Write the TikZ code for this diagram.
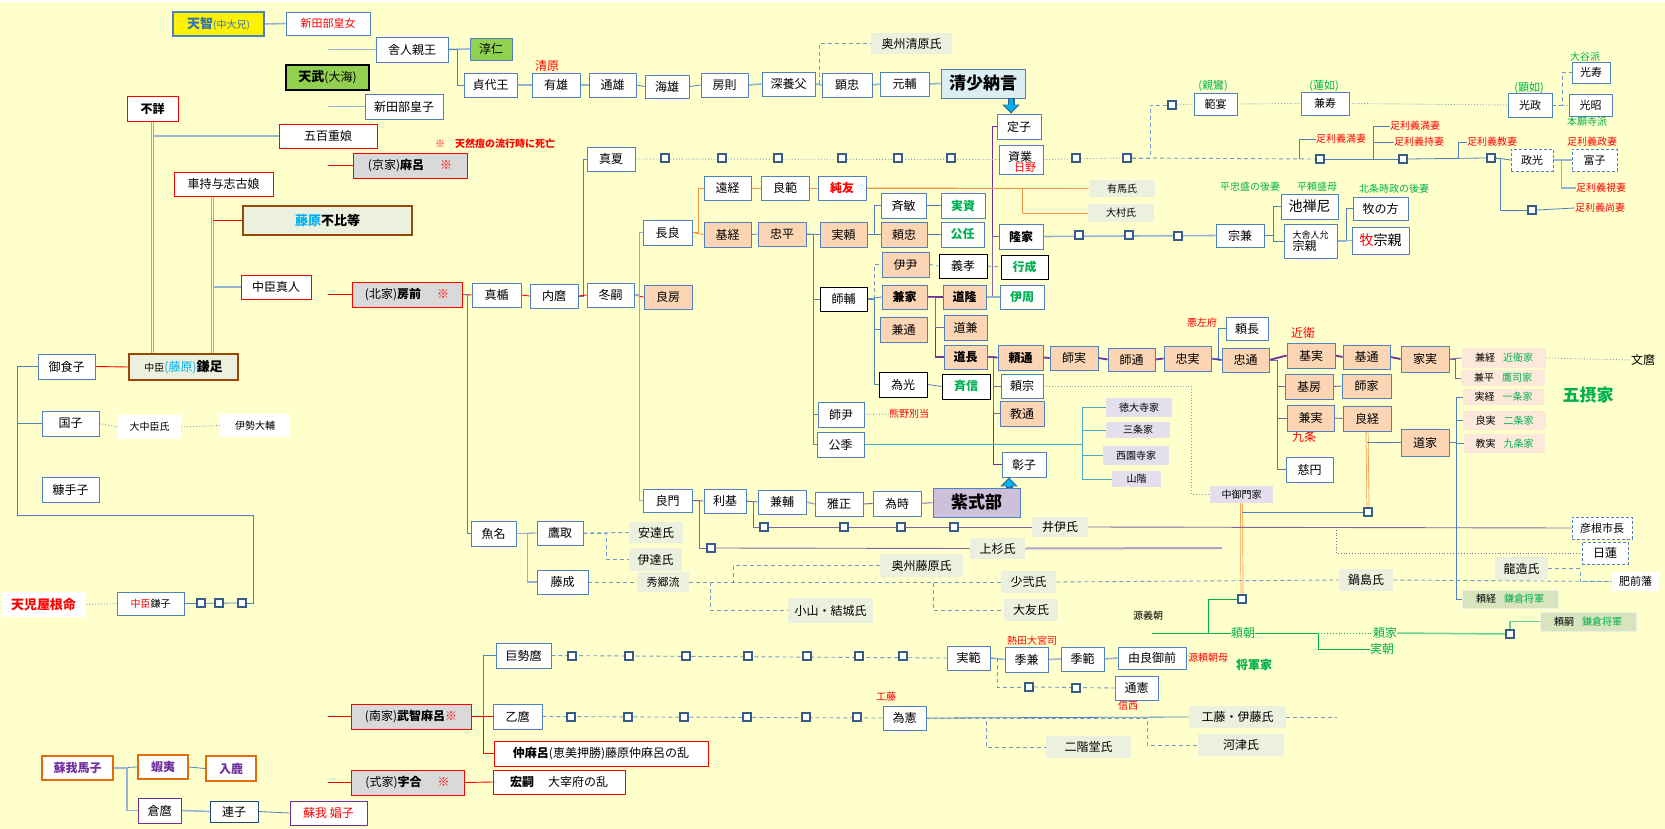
\documentclass[tikz,border=0pt]{standalone}
\usepackage{fontspec}
\setmainfont{Noto Sans CJK JP}
\usetikzlibrary{calc,arrows.meta}
\newcommand\fz[1]{\fontsize{#1}{#1}\selectfont}
\definecolor{bgc}{HTML}{FFFFCC}
\definecolor{bdr}{HTML}{4F81BD}
\definecolor{sqc}{HTML}{385D8A}
\definecolor{orf}{HTML}{FCD5B5}
\definecolor{gryf}{HTML}{D9D9D9}
\definecolor{clanf}{HTML}{EBF1DE}
\definecolor{lavf}{HTML}{E4DFEC}
\definecolor{pinkf}{HTML}{FDE9D9}
\definecolor{kamaf}{HTML}{D7E4BD}
\definecolor{grn}{HTML}{00B050}
\definecolor{purp}{HTML}{7030A0}
\definecolor{purl}{HTML}{8064A2}
\definecolor{purg}{HTML}{B1A0C7}
\definecolor{orgl}{HTML}{F79646}
\definecolor{orgd}{HTML}{E46C0A}
\definecolor{brn}{HTML}{974806}
\definecolor{cyn}{HTML}{00B0F0}
\definecolor{ltb}{HTML}{95B3D7}
\definecolor{dotb}{HTML}{7F9FC5}
\definecolor{tealc}{HTML}{4BACC6}
\definecolor{seif}{HTML}{DAEEF3}
\definecolor{murf}{HTML}{CCC0DA}
\definecolor{tenf}{HTML}{92D050}
\definecolor{tblue}{HTML}{2E74B5}
\definecolor{navyc}{HTML}{1F497D}
\pgfdeclarelayer{back}\pgfdeclarelayer{lines}\pgfsetlayers{back,lines,main}
\tikzset{
 bxs/.style={draw=bdr,fill=white,line width=0.9pt,inner sep=0pt,font={\fz{12}},text=black},
 orfill/.style={fill=orf},
 redb/.style={draw=red},
 gbx/.style={fill=gryf,draw=red},
 blk/.style={draw=black},
 clan/.style={draw=none,fill=clanf},
 lav/.style={draw=none,fill=lavf,font={\fz{10}}},
 pnk/.style={draw=none,fill=pinkf,font={\fz{10}}},
 kama/.style={draw=clanf,fill=kamaf,font={\fz{10}}},
 plainw/.style={draw=none,fill=white},
 dbox/.style={draw=bdr,dash pattern=on 3pt off 2pt},
 sogab/.style={draw=orgd,line width=2pt,text=purp,font={\bfseries\fz{12}}},
 sqr/.style={draw=sqc,fill=white,line width=2pt,minimum size=8pt,inner sep=0pt},
 lab/.style={inner sep=0pt,font={\fz{10}}},
 ln/.style={draw=bdr,line width=0.8pt},
 lnl/.style={draw=ltb,line width=1.6pt},
 rl/.style={draw=red,line width=0.9pt},
 ol/.style={draw=orgl,line width=0.9pt},
 odb/.style={draw=orgl,double=bgc,double distance=1.4pt,line width=0.7pt},
 pl/.style={draw=purp,line width=1.8pt},
 pll/.style={draw=purl,line width=0.9pt},
 pg/.style={draw=purg,line width=1.4pt},
 dsh/.style={draw=bdr!80,line width=0.9pt,dash pattern=on 4pt off 3pt},
 dtl/.style={draw=dotb,line width=0.9pt,dotted},
 dtp/.style={draw=purl,line width=0.8pt,dotted},
 gl/.style={draw=grn,line width=0.9pt},
 tl/.style={draw=tealc,line width=0.9pt},
 gryl/.style={draw=purg,line width=2pt},
 arwo/.style={draw=sqc,line width=7pt,-{Triangle[width=17pt,length=9pt]}},
 arw/.style={draw=cyn,line width=4.5pt,-{Triangle[width=13pt,length=7pt]}}
}
\newcommand\NB[7][]{\pgfmathsetmacro\nbw{#5-#3}\pgfmathsetmacro\nbh{#6-#4}%
 \node[bxs,#1,minimum width=\nbw pt,minimum height=\nbh pt] (#2) at ({(#3+#5)/2},{(#4+#6)/2}) {#7};}
\newcommand\LB[5][]{\node[lab,#1] (#2) at (#3,#4) {#5};}
\newcommand\SQ[3]{\node[sqr] (#1) at (#2,#3) {};}
\begin{document}
\begin{tikzpicture}[x=1pt,y=-1pt]
\useasboundingbox (0,0) rectangle (1665,829);
\begin{pgfonlayer}{back}
\fill[bgc] (0,0) rectangle (1665,829);
\fill[white] (0,0) rectangle (1665,2);
\end{pgfonlayer}
% ---------- left
\NB[line width=2.5pt,fill=yellow,text=tblue]{tenji}{173}{12}{264}{36}{{\bfseries\fz{13}天智}{\fz{10}(中大兄)}}
\NB[text=red,font={\fz{11}}]{nitabeF}{286}{12}{370}{35}{新田部皇女}
\NB{toneri}{376}{37}{448}{62}{舎人親王}
\NB[fill=tenf]{junnin}{470}{38}{512}{60}{淳仁}
\NB[fill=tenf,draw=black,line width=2.5pt]{tenmu}{286}{65}{369}{90}{{\bfseries\fz{13}天武}(大海)}
\NB{nitabeM}{365}{94}{443}{119}{新田部皇子}
\NB[redb]{fusho}{127}{96}{178}{121}{\bfseries 不詳}
\NB[redb]{ioe}{279}{124}{377}{148}{五百重娘}
\NB[gbx]{maro}{353}{153}{467}{178}{(京家){\bfseries 麻呂}\hspace{16pt}\textcolor{red}{※}}
\NB[redb]{kurumochi}{174}{172}{273}{196}{車持与志古娘}
\NB[line width=2.5pt,draw=brn,fill=clanf,font={\bfseries\fz{13}}]{fuhito}{243}{206}{412}{235}{\textcolor{cyn}{藤原}不比等}
\NB[redb]{mahito}{241}{275}{311}{299}{中臣真人}
\NB[gbx]{fusasaki}{352}{282}{462}{307}{(北家){\bfseries 房前}\hspace{16pt}\textcolor{red}{※}}
\NB{mikeko}{38}{354}{95}{379}{御食子}
\NB[line width=2.5pt,draw=brn,fill=clanf]{kamatari}{129}{354}{238}{380}{{\fz{10}中臣}\textcolor{cyn}{(藤原)}{\bfseries\fz{13}鎌足}}
\NB{kuniko}{42}{411}{99}{436}{国子}
\NB[plainw,font={\fz{10}}]{onakatomi}{118}{415}{181}{439}{大中臣氏}
\NB[plainw,font={\fz{10}}]{iseno}{220}{414}{290}{437}{伊勢大輔}
\NB{nukateko}{42}{477}{99}{502}{糠手子}
\NB[plainw,text=red,font={\bfseries\fz{13}}]{amaten}{1}{592}{86}{617}{天児屋根命}
\NB[font={\fz{10}}]{kamako}{117}{592}{184}{615}{\textcolor{red}{中臣}鎌子}
\SQ{s1}{201}{603}\SQ{s2}{219}{603}\SQ{s3}{242}{603}
\NB[sogab]{umako}{42}{756}{113}{780}{蘇我馬子}
\NB[sogab]{emishi}{138}{755}{188}{779}{蝦夷}
\NB[sogab]{iruka}{206}{756}{256}{781}{入鹿}
\NB[draw=purp]{kuramaro}{138}{798}{181}{823}{倉麿}
\NB[draw=navyc]{renshi}{210}{801}{258}{822}{連子}
\NB[draw=purp,text=red]{soshi}{290}{801}{367}{825}{蘇我 娼子}
\NB[gbx]{muchimaro}{351}{704}{471}{729}{(南家){\bfseries 武智麻呂}\textcolor{red}{※}}
\NB[gbx]{umakai}{351}{770}{464}{795}{(式家){\bfseries 宇合}\hspace{16pt}\textcolor{red}{※}}
\LB[text=red,font={\bfseries\fz{10}}]{tennen}{495}{144}{※　天然痘の流行時に死亡}
% ---------- south/middle bottom
\NB{kosemaro}{496}{643}{551}{668}{巨勢麿}
\NB{otomaro}{493}{704}{542}{729}{乙麿}
\NB[redb]{nakamaro}{494}{741}{708}{766}{{\bfseries 仲麻呂}(恵美押勝)藤原仲麻呂の乱}
\NB[redb]{hirotsugu}{493}{770}{625}{794}{{\bfseries 宏嗣}\hspace{14pt}大宰府の乱}
\NB{matate}{472}{283}{521}{307}{真楯}
\NB{uchimaro}{530}{284}{578}{308}{内麿}
\NB{fuyutsugu}{587}{283}{634}{307}{冬嗣}
\NB[orfill]{yoshifusa}{644}{285}{692}{309}{良房}
\NB{uona}{471}{521}{516}{546}{魚名}
\NB{takatori}{537}{521}{583}{545}{鷹取}
\NB[clan]{adachi}{629}{522}{683}{543}{安達氏}
\NB[clan]{date}{629}{548}{682}{571}{伊達氏}
\NB{fujinari}{537}{570}{588}{594}{藤成}
\NB[clan,font={\fz{11}}]{hidesato}{637}{572}{689}{592}{秀郷流}
\NB[clan]{oshufuji}{880}{554}{963}{577}{奥州藤原氏}
\NB[clan]{oyamayuki}{788}{598}{873}{623}{小山・結城氏}
\NB[clan]{shoni}{1001}{571}{1056}{593}{少弐氏}
\NB[clan]{otomo}{1004}{599}{1058}{621}{大友氏}
\NB[clan]{nabeshima}{1339}{569}{1393}{591}{鍋島氏}
\NB[clan]{ryuzo}{1495}{557}{1548}{580}{龍造氏}
\NB[plainw,font={\fz{11}}]{hizen}{1612}{572}{1659}{591}{肥前藩}
\NB[dbox]{nichiren}{1582}{542}{1628}{564}{日蓮}
\NB[dbox,font={\fz{11}}]{hikone}{1572}{517}{1632}{539}{彦根市長}
\NB[clan]{ii}{1032}{517}{1088}{537}{井伊氏}
\NB[clan]{uesugi}{970}{538}{1025}{559}{上杉氏}
\SQ{k1}{572}{656}\SQ{k2}{629}{656}\SQ{k3}{686}{656}\SQ{k4}{748}{656}\SQ{k5}{807}{656}\SQ{k6}{859}{656}\SQ{k7}{903}{656}
\SQ{o1}{571}{717}\SQ{o2}{628}{717}\SQ{o3}{684}{717}\SQ{o4}{747}{717}\SQ{o5}{806}{717}\SQ{o6}{857}{717}
\SQ{i1}{764}{527}\SQ{i2}{844}{527}\SQ{i3}{901}{527}\SQ{i4}{954}{527}
\SQ{u1}{711}{548}
% ---------- top chain
\NB{sadayo}{464}{73}{517}{97}{貞代王}
\LB[text=red,font={\fz{12}}]{kiyohara}{547}{66}{清原}
\NB{ario}{532}{73}{580}{97}{有雄}
\NB{michio}{589}{73}{636}{97}{通雄}
\NB{umio}{645}{75}{689}{98}{海雄}
\NB{fusanori}{701}{73}{748}{97}{房則}
\NB{fukayabu}{762}{72}{815}{96}{深養父}
\NB{akitada}{822}{73}{872}{97}{顕忠}
\NB{motosuke}{880}{72}{929}{96}{元輔}
\NB[fill=seif,font={\bfseries\fz{17}}]{seisho}{941}{69}{1025}{98}{清少納言}
\NB[clan]{oshukiyo}{871}{33}{952}{54}{奥州清原氏}
\NB{teishi}{997}{114}{1041}{139}{定子}
\NB{sukenari}{999}{145}{1043}{174}{}
\LB[font={\fz{12}}]{sukeL}{1020}{157}{資業}
\LB[text=red,font={\fz{11}}]{hino}{1025}{168}{日野}
\NB{manatsu}{587}{147}{635}{171}{真夏}
\SQ{m1}{665}{158}\SQ{m2}{722}{158}\SQ{m3}{778}{158}\SQ{m4}{842}{158}\SQ{m5}{898}{158}\SQ{m6}{951}{158}
\SQ{m7}{1076}{158}\SQ{m8}{1127}{158}\SQ{hs}{1172}{105}
\SQ{a1}{1320}{159}\SQ{a2}{1403}{159}\SQ{a3}{1491}{158}\SQ{a4}{1532}{210}
\NB{nagara}{643}{220}{692}{245}{長良}
\NB{toot}{704}{176}{751}{200}{遠経}
\NB{yoshinori}{761}{176}{809}{200}{良範}
\NB[text=red,font={\bfseries\fz{12}}]{sumitomo}{818}{176}{866}{200}{純友}
\NB[orfill]{mototsune}{704}{222}{751}{247}{基経}
\NB[orfill]{tadahira}{758}{222}{806}{246}{忠平}
\NB[orfill]{saneyori}{820}{222}{867}{247}{実頼}
\NB{tadatoshi}{881}{193}{926}{218}{斉敏}
\NB[text=grn,font={\bfseries\fz{12}}]{sanesuke}{941}{193}{985}{218}{実資}
\NB[orfill]{yoritada}{881}{222}{927}{247}{頼忠}
\NB[text=grn,font={\bfseries\fz{12}}]{kinto}{941}{222}{984}{247}{公任}
\NB[orfill]{koretada}{882}{252}{929}{277}{伊尹}
\NB[blk]{yoshitaka}{939}{254}{987}{278}{義孝}
\NB[blk,text=grn,font={\bfseries\fz{12}}]{yukinari}{1001}{255}{1048}{279}{行成}
\NB[font={\bfseries\fz{12}}]{takaie}{999}{224}{1043}{249}{隆家}
\SQ{tk1}{1079}{235}\SQ{tk2}{1129}{235}\SQ{tk3}{1178}{236}
\NB[clan,font={\fz{10}}]{arima}{1089}{180}{1155}{197}{有馬氏}
\NB[clan,font={\fz{10}}]{omura}{1088}{204}{1154}{222}{大村氏}
\NB{munekane}{1216}{224}{1264}{247}{宗兼}
\NB[font={\fz{14}}]{ikenozenni}{1281}{194}{1338}{219}{池禅尼}
\NB[align=left]{munechika}{1284}{224}{1337}{258}{{\fz{9}大舎人允}\\{\fz{12}宗親}}
\NB{makinokata}{1353}{197}{1408}{220}{牧の方}
\NB[font={\fz{14}}]{makimune}{1352}{227}{1409}{254}{\textcolor{red}{牧}宗親}
\LB[text=grn]{tadamori}{1250}{187}{平忠盛の後妻}
\LB[text=grn]{yorimori}{1317}{187}{平頼盛母}
\LB[text=grn]{hojo}{1394}{189}{北条時政の後妻}
\NB[font={\fz{11}}]{hanen}{1194}{93}{1237}{115}{範宴}
\NB[font={\fz{11}}]{kenju}{1301}{92}{1349}{115}{兼寿}
\NB[font={\fz{11}}]{kosei}{1508}{93}{1552}{117}{光政}
\NB[font={\fz{11}}]{koju}{1572}{62}{1610}{83}{光寿}
\NB[font={\fz{11}}]{kosho}{1569}{94}{1612}{116}{光昭}
\LB[text=grn,font={\fz{11}}]{shinran}{1213}{86}{(親鸞)}
\LB[text=grn,font={\fz{11}}]{rennyo}{1324}{86}{(蓮如)}
\LB[text=grn,font={\fz{11}}]{kennyo}{1529}{88}{(顕如)}
\LB[text=grn]{otani}{1585}{57}{大谷派}
\LB[text=grn]{honganji}{1587}{122}{本願寺派}
\NB[dbox,font={\fz{11}}]{masamitsu}{1511}{149}{1553}{171}{政光}
\NB[dbox,font={\fz{11}}]{tomiko}{1572}{149}{1617}{171}{富子}
\LB[text=red]{w1}{1341}{139}{足利義満妻}
\LB[text=red]{w2}{1415}{126}{足利義満妻}
\LB[text=red]{w3}{1419}{142}{足利義持妻}
\LB[text=red]{w4}{1492}{142}{足利義教妻}
\LB[text=red]{w5}{1592}{142}{足利義政妻}
\LB[text=red]{w6}{1601}{188}{足利義視妻}
\LB[text=red]{w7}{1600}{208}{足利義尚妻}
% ---------- Hokke middle
\NB[blk]{morosuke}{820}{287}{867}{311}{師輔}
\NB[orfill,font={\bfseries\fz{12}}]{kaneie}{882}{285}{927}{309}{兼家}
\NB[orfill,font={\bfseries\fz{12}}]{michitaka}{943}{285}{986}{309}{道隆}
\NB[text=grn,font={\bfseries\fz{12}}]{korechika}{1000}{285}{1044}{309}{伊周}
\NB[orfill]{kanemichi}{880}{317}{927}{342}{兼通}
\NB[orfill]{michikane}{944}{315}{987}{340}{道兼}
\NB[orfill,font={\bfseries\fz{12}}]{michinaga}{944}{345}{987}{369}{道長}
\NB[orfill,font={\bfseries\fz{12}}]{yorimichi}{998}{345}{1043}{370}{頼通}
\NB[orfill]{morozane}{1050}{346}{1098}{370}{師実}
\NB[orfill]{moromichi}{1108}{348}{1155}{371}{師通}
\NB[orfill]{tadazane}{1164}{346}{1211}{371}{忠実}
\NB{yorinaga}{1226}{317}{1268}{340}{頼長}
\NB[orfill]{tadamichi}{1222}{348}{1269}{372}{忠通}
\LB[text=red]{akusafu}{1202}{323}{悪左府}
\NB[blk]{tamemitsu}{879}{372}{927}{397}{為光}
\NB[blk,text=grn,font={\bfseries\fz{12}}]{tadanobu}{942}{374}{990}{399}{斉信}
\NB{yorimune}{1001}{374}{1043}{398}{頼宗}
\NB[orfill]{norimichi}{1000}{401}{1044}{426}{教通}
\NB{shoshi2}{1002}{452}{1046}{477}{彰子}
\NB[fill=murf,font={\bfseries\fz{17}}]{murasaki}{933}{488}{1020}{517}{紫式部}
\NB{tametoki}{873}{491}{921}{516}{為時}
\NB{masatada}{815}{492}{863}{516}{雅正}
\NB{kanesuke}{758}{490}{806}{514}{兼輔}
\NB{toshimoto}{704}{489}{746}{513}{利基}
\NB{yoshikado}{643}{489}{692}{512}{良門}
\NB{morotada}{818}{402}{864}{427}{師尹}
\NB{kinsue}{817}{432}{864}{457}{公季}
\LB[text=red]{kumano}{909}{414}{熊野別当}
\NB[lav]{tokudaiji}{1106}{398}{1172}{417}{徳大寺家}
\NB[lav]{sanjo}{1106}{422}{1170}{438}{三条家}
\NB[lav]{saionji}{1103}{446}{1169}{465}{西園寺家}
\NB[lav]{yamashina}{1112}{471}{1161}{487}{山階}
\NB[lav]{nakamikado}{1210}{486}{1273}{503}{中御門家}
% ---------- right
\NB[orfill]{motozane}{1287}{343}{1335}{368}{基実}
\NB[orfill]{motomichi}{1343}{345}{1390}{369}{基通}
\NB[orfill]{iezane}{1401}{346}{1449}{372}{家実}
\NB[pnk]{kanetsune}{1462}{348}{1546}{368}{兼経\hspace{8pt}\textcolor{grn}{近衛家}}
\NB[pnk]{kanehira}{1461}{370}{1545}{386}{兼平\hspace{8pt}\textcolor{grn}{鷹司家}}
\NB[pnk]{sanetsune}{1463}{389}{1544}{405}{実経\hspace{8pt}\textcolor{grn}{一条家}}
\NB[pnk]{yoshizane}{1463}{411}{1546}{430}{良実\hspace{8pt}\textcolor{grn}{二条家}}
\NB[pnk]{norizane}{1464}{434}{1545}{453}{教実\hspace{8pt}\textcolor{grn}{九条家}}
\LB[text=grn,font={\bfseries\fz{17}}]{gosekke}{1588}{395}{五摂家}
\LB[font={\fz{12}}]{fumimaro}{1643}{360}{文麿}
\LB[text=red,font={\fz{12}}]{konoe}{1303}{333}{近衛}
\LB[text=red,font={\fz{12}}]{kujo}{1304}{437}{九条}
\NB[orfill]{motofusa}{1285}{374}{1333}{399}{基房}
\NB[orfill]{moroie}{1342}{374}{1391}{398}{師家}
\NB[orfill]{kanezane}{1287}{405}{1334}{431}{兼実}
\NB[orfill]{yoshitsune}{1343}{406}{1391}{431}{良経}
\NB[orfill]{michiie}{1401}{429}{1449}{456}{道家}
\NB{jien}{1286}{457}{1333}{482}{慈円}
\NB[kama]{yoritsune}{1462}{590}{1558}{608}{頼経\hspace{8pt}\textcolor{grn}{鎌倉将軍}}
\NB[kama]{yoritsugu}{1540}{612}{1636}{631}{頼嗣\hspace{8pt}\textcolor{grn}{鎌倉将軍}}
\SQ{nk}{1242}{599}\SQ{yq}{1368}{512}\SQ{yk}{1510}{634}
% ---------- bottom right
\NB{sanenori}{947}{646}{990}{670}{実範}
\NB{suekane}{1005}{647}{1048}{672}{季兼}
\NB{suenori}{1061}{647}{1104}{671}{季範}
\NB{yuragozen}{1118}{647}{1186}{669}{由良御前}
\NB{michinori}{1115}{676}{1158}{700}{通憲}
\NB{tamenori}{883}{706}{926}{730}{為憲}
\NB[clan]{kudoito}{1189}{706}{1286}{728}{工藤・伊藤氏}
\NB[clan]{kawazu}{1198}{734}{1284}{756}{河津氏}
\NB[clan]{nikaido}{1046}{736}{1131}{758}{二階堂氏}
\SQ{t1}{1029}{687}\SQ{t2}{1076}{688}
\LB[text=red]{atsuta}{1032}{641}{熱田大宮司}
\LB[text=red]{yorihaha}{1208}{658}{源頼朝母}
\LB{yoshitomo}{1148}{616}{源義朝}
\LB[text=grn,font={\fz{12}}]{yoritomo}{1243}{633}{頼朝}
\LB[text=grn,font={\bfseries\fz{12}}]{shogunke}{1254}{665}{将軍家}
\LB[text=grn,font={\fz{12}}]{yorie}{1385}{633}{頼家}
\LB[text=grn,font={\fz{12}}]{sanetomo}{1382}{649}{実朝}
\LB[text=red]{shinzei}{1128}{706}{信西}
\LB[text=red]{kudo}{886}{697}{工藤}
% ---------- helper coordinates
\coordinate (lk) at (253,515);
\coordinate (nj) at (1336,527);
\coordinate (ue) at (1222,548);
\coordinate (kend) at (1337,717);
\coordinate (kv) at ($(kurumochi.south)+(-11,0)$);
\coordinate (ta) at ($(teishi.north)+(-8,0)$);
\coordinate (sa) at ($(shoshi2.south)+(-15,0)$);
% ---------- connectors
\begin{pgfonlayer}{lines}
\draw[lnl] (tenji.east) -- (nitabeF.west);
\draw[odb] (nitabeF.south) -- (nitabeF.south |- soshi.north);
\draw[lnl] (nitabeF.south |- toneri.west) -- (toneri.west);
\draw[lnl] (nitabeF.south |- nitabeM.west) -- (nitabeM.west);
\draw[lnl] (fusho.south |- ioe.west) -- (ioe.west);
\draw[rl] (nitabeF.south |- maro.west) -- (maro.west);
\draw[rl] (nitabeF.south |- fusasaki.west) -- (fusasaki.west);
\draw[rl] (nitabeF.south |- muchimaro.west) -- (muchimaro.west);
\draw[rl] (nitabeF.south |- umakai.west) -- (umakai.west);
\draw[odb] (fusho.south) -- (fusho.south |- kamatari.north);
\draw[odb] (kv) -- (kv |- kamatari.north);
\draw[rl] (kv |- fuhito.west) -- (fuhito.west);
\draw[lnl] (kv |- mahito.west) -- (mahito.west);
\draw[rl] (mikeko.east) -- (kamatari.west);
\draw[ln] (mikeko.west) -- ++(-20,0) |- (kuniko.west);
\draw[ln] (mikeko.west) -- ++(-20,0) |- (lk) |- (s3.east);
\draw[dtl] (kuniko.east) -- (onakatomi.west);
\draw[dtl] (onakatomi.east) -- (iseno.west);
\draw[dtl] (amaten.east) -- (kamako.west);
\draw[ln] (kamako.east) -- (s3.west);
\draw[ln] (umako.east) -- (emishi.west);
\draw[ln] (emishi.east) -- (iruka.west);
\draw[lnl] (umako.east) -- ++(13,0) |- (kuramaro.west);
\draw[lnl] (kuramaro.east) -- (renshi.west);
\draw[ln] (renshi.east) -- (soshi.west);
% top chain
\draw[lnl] (toneri.east) -- (junnin.west);
\draw[ln] (toneri.east) -- ++(9,0) |- (sadayo.west);
\draw[lnl] (sadayo.east) -- (ario.west);
\draw[lnl] (ario.east) -- (michio.west);
\draw[ln] (michio.east) -- (umio.west);
\draw[ln] (umio.east) -- (fusanori.west);
\draw[lnl] (fusanori.east) -- (fukayabu.west);
\draw[lnl] (fukayabu.east) -- (akitada.west);
\draw[lnl] (akitada.east) -- (motosuke.west);
\draw[lnl] (motosuke.east) -- (seisho.west);
\draw[dsh] (fukayabu.east) ++(4,0) |- (oshukiyo.west);
\draw[pl] (michitaka.east) -- ++(6,0) |- (teishi.west);
\draw[pll] (michitaka.east) -- ++(6,0) |- (takaie.west);
\draw[lnl] (michitaka.east) -- (korechika.west);
% manatsu line
\draw[dtl] (manatsu.east) -- (sukenari.west);
\draw[dtl] (sukenari.east) -- (m8.west);
\draw[dsh] (m8.east) -- (a1.west);
\draw[dsh] (m8.east) -- ++(18,0) |- (hs.west);
\draw[dtl] (hs.east) -- (hanen.west);
\draw[dtl] (hanen.east) -- (kenju.west);
\draw[dtl] (kenju.east) -- (kosei.west);
\draw[dtl] (kosei.east) -- (kosho.west);
\draw[dsh] (kosei.east) -- ++(10,0) |- (koju.west);
\draw[ln] (a1.west) ++(-16,0) |- (w1.west);
\draw[ln] (a1.east) -- (a2.west);
\draw[ln] (a2.west) ++(-25,0) |- (w2.west);
\draw[ln] (a2.west) ++(-25,0) |- (w3.west);
\draw[ln] (a2.east) -- (a3.west);
\draw[ln] (a3.west) ++(-28,0) |- (w4.west);
\draw[ln] (a3.east) -- (masamitsu.west);
\draw[lnl] (masamitsu.east) -- (tomiko.west);
\draw[lnl] (masamitsu.east) -- ++(8,0) |- (w6.west);
\draw[ln] (a3.east) -- ++(4,0) |- (a4.west);
\draw[ln] (a4.east) -- (w7.west);
\draw[ln] (uchimaro.east) -- ++(5,0) |- (manatsu.west);
% hokke
\draw[rl] (fusasaki.east) -- (matate.west);
\draw[rl] (matate.east) -- (uchimaro.west);
\draw[rl] (uchimaro.east) -- (fuyutsugu.west);
\draw[rl] (fuyutsugu.east) -- (yoshifusa.west);
\draw[ln] (fusasaki.east) -- ++(5,0) |- (uona.west);
\draw[pg] (fuyutsugu.east) -- ++(5,0) |- (nagara.west);
\draw[pg] (fuyutsugu.east) -- ++(5,0) |- (yoshikado.west);
\draw[ol] (nagara.east) -- ++(6,0) |- (toot.west);
\draw[ol] (nagara.east) -- (mototsune.west);
\draw[ol] (toot.east) -- (yoshinori.west);
\draw[ol] (yoshinori.east) -- (sumitomo.west);
\draw[ol] (sumitomo.east) -- (arima.west);
\draw[ol] (sumitomo.east) -- ++(156,0) |- (omura.west);
\draw[ln] (mototsune.east) -- (tadahira.west);
\draw[ln] (tadahira.east) -- (saneyori.west);
\draw[ln] (tadahira.east) -- ++(7,0) |- (morosuke.west);
\draw[ln] (tadahira.east) -- ++(7,0) |- (morotada.west);
\draw[ln] (tadahira.east) -- ++(7,0) |- (kinsue.west);
\draw[ln] (saneyori.east) -- ++(7,0) |- (tadatoshi.west);
\draw[ln] (saneyori.east) -- ++(7,0) |- (yoritada.west);
\draw[ln] (tadatoshi.east) -- (sanesuke.west);
\draw[ln] (yoritada.east) -- (kinto.west);
\draw[dsh] (morosuke.east) -- ++(7,0) |- (koretada.west);
\draw[ln] (morosuke.east) -- (kaneie.west);
\draw[ln] (morosuke.east) -- ++(7,0) |- (kanemichi.west);
\draw[ln] (morosuke.east) -- ++(7,0) |- (tamemitsu.west);
\draw[dsh] (koretada.east) -- (yoshitaka.west);
\draw[dsh] (yoshitaka.east) -- (yukinari.west);
\draw[pl] (kaneie.east) -- (michitaka.west);
\draw[pl] (kaneie.east) -- ++(8,0) |- (michinaga.west);
\draw[pll] (kaneie.east) -- ++(8,0) |- (michikane.west);
\draw[pl] (michinaga.east) -- (yorimichi.west);
\draw[pl] (michinaga.east) -- ++(6,0) |- (shoshi2.west);
\draw[pll] (michinaga.east) -- ++(6,0) |- (yorimune.west);
\draw[pll] (michinaga.east) -- ++(6,0) |- (norimichi.west);
\draw[pl] (yorimichi.east) -- (morozane.west);
\draw[pl] (morozane.east) -- (moromichi.west);
\draw[pl] (moromichi.east) -- (tadazane.west);
\draw[pl] (tadazane.east) -- (tadamichi.west);
\draw[ln] (tadazane.east) -- ++(7,0) |- (yorinaga.west);
\draw[lnl] (takaie.east) -- (munekane.west);
\draw[ln] (munekane.east) -- ++(9,0) |- (ikenozenni.west);
\draw[ln] (munekane.east) -- ++(9,0) |- (munechika.west);
\draw[ln] (munechika.east) -- ++(9,0) |- (makinokata.west);
\draw[lnl] (munechika.east) -- ++(9,0) |- (makimune.west);
\draw[ln] (tamemitsu.east) -- (tadanobu.west);
\draw[dtl] (morotada.east) -- (kumano.west);
\draw[tl] (kinsue.east) -- ++(218,0) |- (tokudaiji.west);
\draw[tl] (kinsue.east) -- ++(218,0) |- (sanjo.west);
\draw[tl] (kinsue.east) -- ++(218,0) |- (saionji.west);
\draw[tl] (kinsue.east) -- ++(218,0) |- (yamashina.west);
\draw[dtl] (yorimune.east) -- ++(148,0) |- (nakamikado.west);
\draw[odb] (nakamikado.south) -- (nk.north);
\draw[ln] (nakamikado.south |- yq.west) -- (yq.west);
\draw[odb] (yoshitsune.south) -- (yq.north);
\draw[ln] (yoshitsune.south |- michiie.west) -- (michiie.west);
\draw[pl] (tadamichi.east) -- (motozane.west);
\draw[pll] (tadamichi.east) -- ++(8,0) |- (motofusa.west);
\draw[pll] (tadamichi.east) -- ++(8,0) |- (kanezane.west);
\draw[pll] (tadamichi.east) -- ++(8,0) |- (jien.west);
\draw[pl] (motozane.east) -- (motomichi.west);
\draw[pl] (motomichi.east) -- (iezane.west);
\draw[pll] (iezane.east) -- (kanetsune.west);
\draw[pll] (iezane.east) -- ++(6,0) |- (kanehira.west);
\draw[pll] (motofusa.east) -- (moroie.west);
\draw[pll] (kanezane.east) -- (yoshitsune.west);
\draw[ln] (michiie.east) -- ++(7,0) |- (sanetsune.west);
\draw[ln] (michiie.east) -- ++(7,0) |- (yoshizane.west);
\draw[ln] (michiie.east) -- ++(7,0) |- (norizane.west);
\draw[ln] (michiie.east) -- ++(7,0) |- (yoritsune.west);
\draw[dtl] (kanetsune.east) -- (fumimaro.west);
\draw[pll] (yoshikado.east) -- (toshimoto.west);
\draw[pll] (toshimoto.east) -- (kanesuke.west);
\draw[pg] (kanesuke.east) -- (masatada.west);
\draw[pll] (masatada.east) -- (tametoki.west);
\draw[pg] (tametoki.east) -- (murasaki.west);
\draw[pll] (yoshikado.east) -- ++(7,0) |- (u1.west);
\draw[pll] (u1.east) -- (uesugi.west);
\draw[gryl] (uesugi.east) -- (ue);
\draw[pll] (toshimoto.east) -- ++(7,0) |- (i1.west);
\draw[pll] (i1.east) -- (ii.west);
\draw[pll] (ii.east) -- (hikone.west);
\draw[dtp] (nj) |- (nichiren.west);
\draw[ln] (uona.east) -- (takatori.west);
\draw[dsh] (takatori.east) -- (adachi.west);
\draw[dsh] (takatori.east) -- ++(23,0) |- (date.west);
\draw[lnl] (uona.east) -- ++(11,0) |- (fujinari.west);
\draw[dsh] (fujinari.east) -- (hidesato.west);
\draw[dsh] (hidesato.east) -- (shoni.west);
\draw[dsh] (shoni.east) -- (nabeshima.west);
\draw[dsh] (nabeshima.east) -- (hizen.west);
\draw[dsh] (hidesato.east) -- ++(21,0) |- (oyamayuki.west);
\draw[dsh] (hidesato.east) -- ++(44,0) |- (oshufuji.west);
\draw[dsh] (hidesato.east) -- ++(244,0) |- (otomo.west);
\draw[dsh] (ryuzo.east) -- ++(32,0) |- (hizen.west);
% nanke / shikike
\draw[rl] (muchimaro.east) -- (otomaro.west);
\draw[ln] (muchimaro.east) -- ++(12,0) |- (kosemaro.west);
\draw[rl] (muchimaro.east) -- ++(12,0) |- (nakamaro.west);
\draw[dsh] (kosemaro.east) -- (sanenori.west);
\draw[dsh] (otomaro.east) -- (tamenori.west);
\draw[rl] (umakai.east) -- (hirotsugu.west);
\draw[lnl] (sanenori.east) -- (suekane.west);
\draw[lnl] (suekane.east) -- (suenori.west);
\draw[lnl] (suenori.east) -- (yuragozen.west);
\draw[dsh] (sanenori.east) -- ++(7,0) |- (t1.west);
\draw[dsh] (t1.east) -- (michinori.west);
\draw[odb] (yuragozen.north) -- (yuragozen.north |- yoshitomo.south);
\draw[gl] (yuragozen.north |- yoritomo.west) -- (yoritomo.west);
\draw[gl] ($(yoritomo.west)+(-22,0)$) |- (nk.west);
\draw[gl] (yoritomo.east) -- ++(63,0);
\draw[gl,dotted] ($(yoritomo.east)+(63,0)$) -- (yorie.west);
\draw[gl] (yoritomo.east) -- ++(63,0) |- (sanetomo.west);
\draw[gl,draw=grn!60,line width=1.5pt] (yorie.east) -- (yk.west);
\draw[odb] (yoritsune.south) -- (yk.north);
\draw[gl,draw=grn!60,line width=1.5pt] (yk.north) |- (yoritsugu.west);
\draw[ln] (tamenori.east) -- (kudoito.west);
\draw[dsh] (kudoito.east) -- (kend);
\draw[dsh] (tamenori.east) -- ++(60,0) |- (nikaido.west);
\draw[dsh] (tamenori.east) -- ++(221,0) |- (kawazu.west);
\end{pgfonlayer}
% arrows
\draw[arwo] (ta |- seisho.south) -- (ta);
\draw[arw] ($(ta |- seisho.south)+(0,1)$) -- ($(ta)+(0,-1.5)$);
\draw[arwo] (sa |- murasaki.north) -- (sa);
\draw[arw] ($(sa |- murasaki.north)+(0,-1)$) -- ($(sa)+(0,1.5)$);
\end{tikzpicture}
\end{document}
